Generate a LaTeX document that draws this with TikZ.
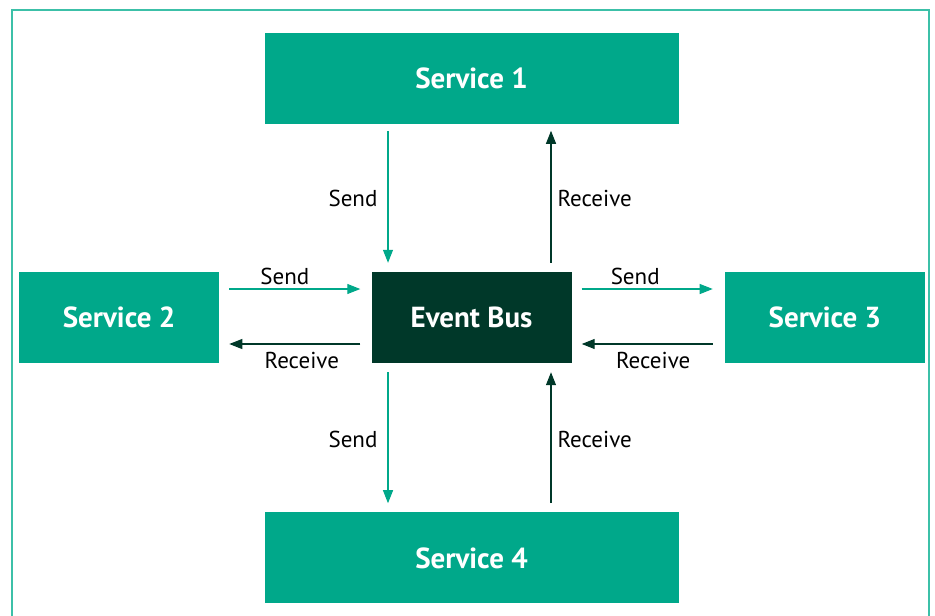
\documentclass[tikz,border=0pt]{standalone}
\usepackage{fontspec}
\setmainfont{PT Sans}
\usepackage{xcolor}
\usetikzlibrary{arrows.meta, positioning}
\definecolor{busteal}{RGB}{0, 168, 138}
\definecolor{busdark}{RGB}{0, 56, 41}
\definecolor{frameteal}{RGB}{60, 192, 168}

\begin{document}
\begin{tikzpicture}[
    x=1pt, y=-1pt,
    service/.style={rectangle, fill=busteal, text=white, font=\bfseries\fontsize{29}{32}\selectfont, minimum height=91pt, inner sep=0pt},
    wide/.style={minimum width=414pt},
    narrow/.style={minimum width=200pt},
    send/.style={-{Triangle[length=13pt, width=10pt]}, line width=1.2pt, draw=busteal},
    recv/.style={-{Triangle[length=13pt, width=10pt]}, line width=1.2pt, draw=busdark},
    lbl/.style={font=\fontsize{23}{26}\selectfont, text=black, inner sep=0pt}
]
\useasboundingbox (0,0) rectangle (935,616);

% Frame
\draw[frameteal, line width=1.5pt] (12,620) -- (12,10) -- (929,10) -- (929,620);

% Bus
\node[service, narrow, fill=busdark] (bus) at (471.5,317.5) {Event Bus};

% Services
\node[service, wide, above=148pt of bus] (s1) {Service 1};
\node[service, narrow, left=152pt of bus] (s2) {Service 2};
\node[service, narrow, right=153pt of bus] (s3) {Service 3};
\node[service, wide, below=149pt of bus] (s4) {Service 4};

% Service 1
\draw[send] ([xshift=-83.5pt, yshift=-7pt]s1.south) -- node[lbl, left=10pt, yshift=-2pt] {Send} ([xshift=-83.5pt, yshift=9pt]bus.north);
\draw[recv] ([xshift=79.5pt, yshift=9pt]bus.north) -- node[lbl, right=6pt, yshift=-2pt] {Receive} ([xshift=79.5pt, yshift=-7pt]s1.south);

% Service 2
\draw[send] ([xshift=10pt, yshift=28.5pt]s2.east) -- node[lbl, above=4pt, xshift=-10pt] {Send} ([xshift=-11pt, yshift=28.5pt]bus.west);
\draw[recv] ([xshift=-11pt, yshift=-26.5pt]bus.west) -- node[lbl, below=8pt, xshift=7pt] {Receive} ([xshift=10pt, yshift=-26.5pt]s2.east);

% Service 3
\draw[send] ([xshift=10pt, yshift=28.5pt]bus.east) -- node[lbl, above=4pt, xshift=-12pt] {Send} ([xshift=-12pt, yshift=28.5pt]s3.west);
\draw[recv] ([xshift=-12pt, yshift=-26.5pt]s3.west) -- node[lbl, below=8pt, xshift=6pt] {Receive} ([xshift=10pt, yshift=-26.5pt]bus.east);

% Service 4
\draw[send] ([xshift=-83.5pt, yshift=-9pt]bus.south) -- node[lbl, left=10pt, yshift=-2pt] {Send} ([xshift=-83.5pt, yshift=9pt]s4.north);
\draw[recv] ([xshift=79.5pt, yshift=9pt]s4.north) -- node[lbl, right=6pt, yshift=-2pt] {Receive} ([xshift=79.5pt, yshift=-9pt]bus.south);

\end{tikzpicture}
\end{document}
